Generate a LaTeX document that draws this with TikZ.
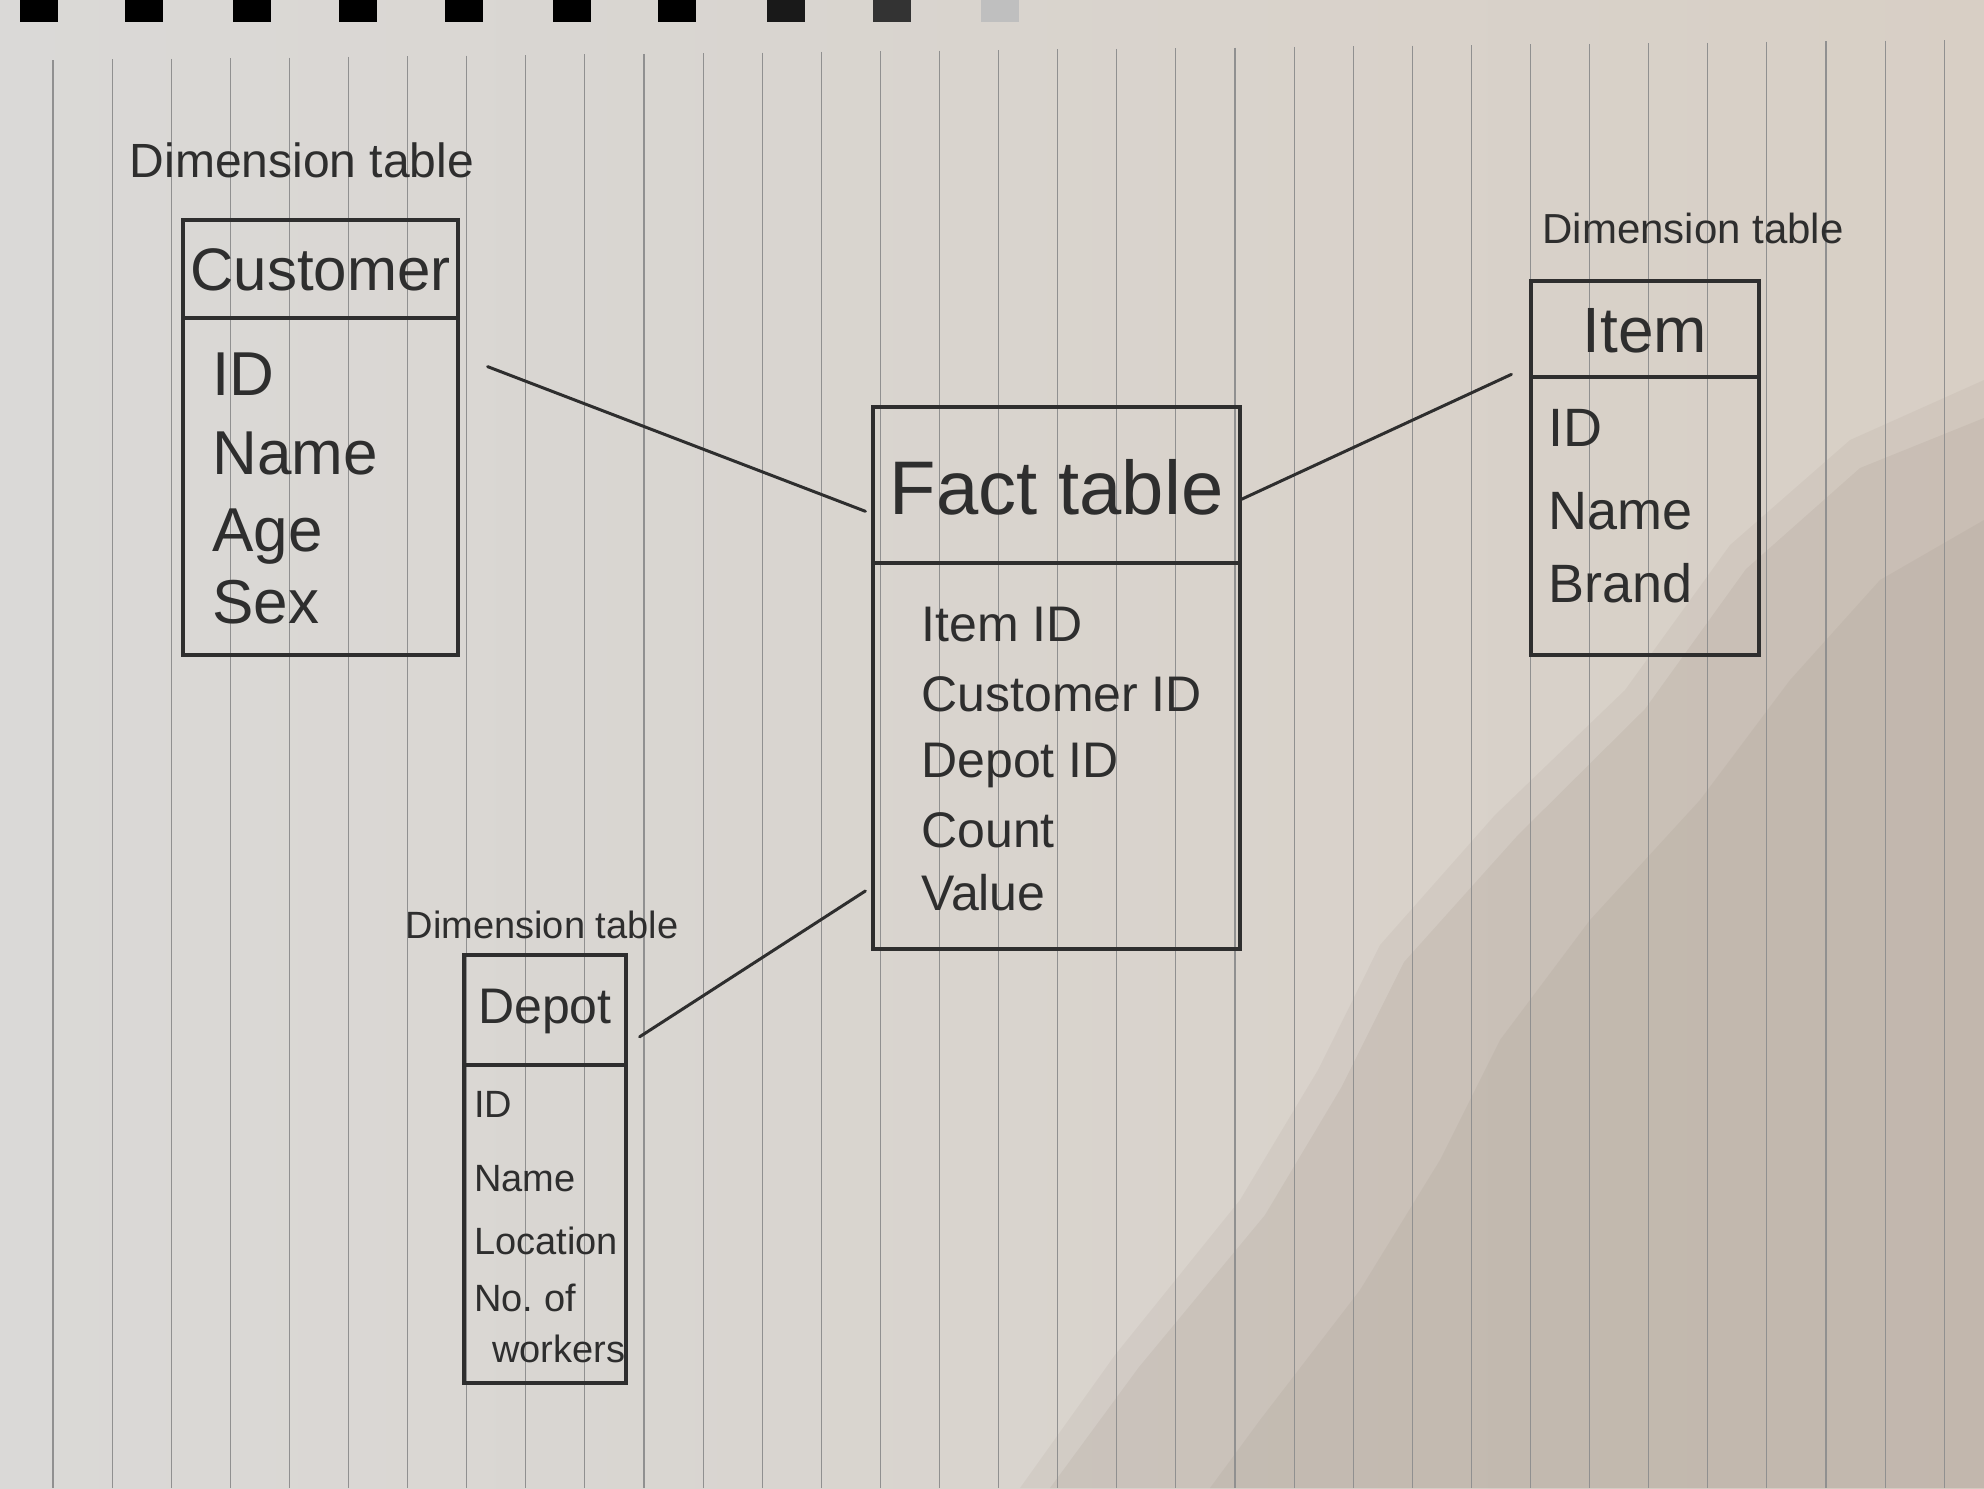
\documentclass[tikz,border=0pt]{standalone}
\usepackage{fontspec}
\setmainfont{Liberation Sans}
\usetikzlibrary{calc}
\definecolor{ink}{HTML}{2E2E2E}
\definecolor{paperL}{HTML}{DAD9D7}
\definecolor{paperR}{HTML}{D8CFC5}
\definecolor{shadowc}{HTML}{7A6A5C}
\definecolor{rulec}{HTML}{909090}
\begin{document}
\begin{tikzpicture}[x=0.5pt,y=-0.5pt,
  tbox/.style={draw=ink,line width=1.6pt,inner sep=0pt},
  ttl/.style={text=ink,inner sep=0pt,anchor=center},
  fld/.style={text=ink,inner sep=0pt,anchor=base west},
  lbl/.style={text=ink,inner sep=0pt,anchor=center},
  conn/.style={draw=ink,line width=1.5pt,line cap=round},
  rule/.style={draw=rulec,line width=0.55pt},
  hole/.style={fill=#1,draw=none}]
\useasboundingbox (0,0) rectangle (1984,1488);
% paper
\shade[left color=paperL,right color=paperR] (0,0) rectangle (1984,1488);
\fill[shadowc,opacity=0.07] (1984,380) -- (1850,440) -- (1730,545) -- (1625,690) -- (1495,815) -- (1380,945) -- (1318,1070) -- (1240,1200) -- (1115,1355) -- (1020,1488) -- (1984,1488) -- cycle;
\fill[shadowc,opacity=0.09] (1984,418) -- (1860,468) -- (1746,569) -- (1645,709) -- (1518,835) -- (1404,962) -- (1341,1088) -- (1265,1215) -- (1139,1367) -- (1050,1488) -- (1984,1488) -- cycle;
\fill[shadowc,opacity=0.08] (1984,520) -- (1880,580) -- (1790,680) -- (1700,800) -- (1590,920) -- (1500,1040) -- (1440,1160) -- (1360,1290) -- (1260,1420) -- (1210,1488) -- (1984,1488) -- cycle;
\foreach \i in {0,...,32} {
  \pgfmathsetmacro\xx{53+59.1*\i}
  \pgfmathsetmacro\yy{60-20*\i/32}
  \draw[rule] (\xx,\yy) -- (\xx,1488);
}
% binding holes
\foreach \cx/\col in {39/black,144/black,252/black,358/black,464/black,572/black,677/black,786/black!90,892/black!80,1000/black!25} {
  \fill[hole=\col] (\cx-19,0) rectangle (\cx+19,22);
}
% labels
\node[lbl,font=\fontsize{24}{28}\selectfont] (lcust) at (302,160) {Dimension table};
\node[lbl,font=\fontsize{21}{25}\selectfont] (litem) at (1693,228) {Dimension table};
\node[lbl,font=\fontsize{19}{23}\selectfont] (ldepot) at (542,925) {Dimension table};
% Customer
\node[tbox,minimum width=137.5pt,minimum height=217.5pt] (cust) at (320.5,437.5) {};
\draw[ink,line width=1.6pt] (cust.west |- 0,318) -- (cust.east |- 0,318);
\node[ttl,font=\fontsize{30}{36}\selectfont] (custt) at (320.5,270) {Customer};
\node[fld,font=\fontsize{31}{38}\selectfont] (c1) at (212,395) {ID};
\node[fld,font=\fontsize{31}{38}\selectfont] (c2) at (212,474) {Name};
\node[fld,font=\fontsize{31}{38}\selectfont] (c3) at (212,551) {Age};
\node[fld,font=\fontsize{31}{38}\selectfont] (c4) at (212,623) {Sex};
% Fact
\node[tbox,minimum width=183.5pt,minimum height=271pt] (fact) at (1056.5,678) {};
\draw[ink,line width=1.6pt] (fact.west |- 0,563) -- (fact.east |- 0,563);
\node[ttl,font=\fontsize{38}{46}\selectfont] (factt) at (1056.5,487) {Fact table};
\node[fld,font=\fontsize{25}{30}\selectfont] (f1) at (921,641) {Item ID};
\node[fld,font=\fontsize{25}{30}\selectfont] (f2) at (921,711) {Customer ID};
\node[fld,font=\fontsize{25}{30}\selectfont] (f3) at (921,777) {Depot ID};
\node[fld,font=\fontsize{25}{30}\selectfont] (f4) at (921,847) {Count};
\node[fld,font=\fontsize{25}{30}\selectfont] (f5) at (921,910) {Value};
% Item
\node[tbox,minimum width=114pt,minimum height=187pt] (item) at (1645,468) {};
\draw[ink,line width=1.6pt] (item.west |- 0,377) -- (item.east |- 0,377);
\node[ttl,font=\fontsize{32}{38}\selectfont] (itemt) at (1645,331) {Item};
\node[fld,font=\fontsize{27}{32}\selectfont] (i1) at (1548,446) {ID};
\node[fld,font=\fontsize{27}{32}\selectfont] (i2) at (1548,529) {Name};
\node[fld,font=\fontsize{27}{32}\selectfont] (i3) at (1548,602) {Brand};
% Depot
\node[tbox,minimum width=81pt,minimum height=214pt] (depot) at (545,1169) {};
\draw[ink,line width=1.6pt] (depot.west |- 0,1065) -- (depot.east |- 0,1065);
\node[ttl,font=\fontsize{25}{30}\selectfont] (depott) at (545,1011) {Depot};
\node[fld,font=\fontsize{19}{23}\selectfont] (d1) at (474,1117) {ID};
\node[fld,font=\fontsize{19}{23}\selectfont] (d2) at (474,1191) {Name};
\node[fld,font=\fontsize{19}{23}\selectfont] (d3) at (474,1254) {Location};
\node[fld,font=\fontsize{19}{23}\selectfont] (d4) at (474,1311) {No.\ of};
\node[fld,font=\fontsize{19}{23}\selectfont] (d5) at (492,1362) {workers};
% connectors
\draw[conn] ([xshift=14pt]cust.27) -- ([xshift=-3pt]fact.138);
\draw[conn] (fact.44) -- ([xshift=-9pt]item.141);
\draw[conn] ([xshift=-3pt]fact.229) -- ([xshift=6pt]depot.58);
\end{tikzpicture}
\end{document}
